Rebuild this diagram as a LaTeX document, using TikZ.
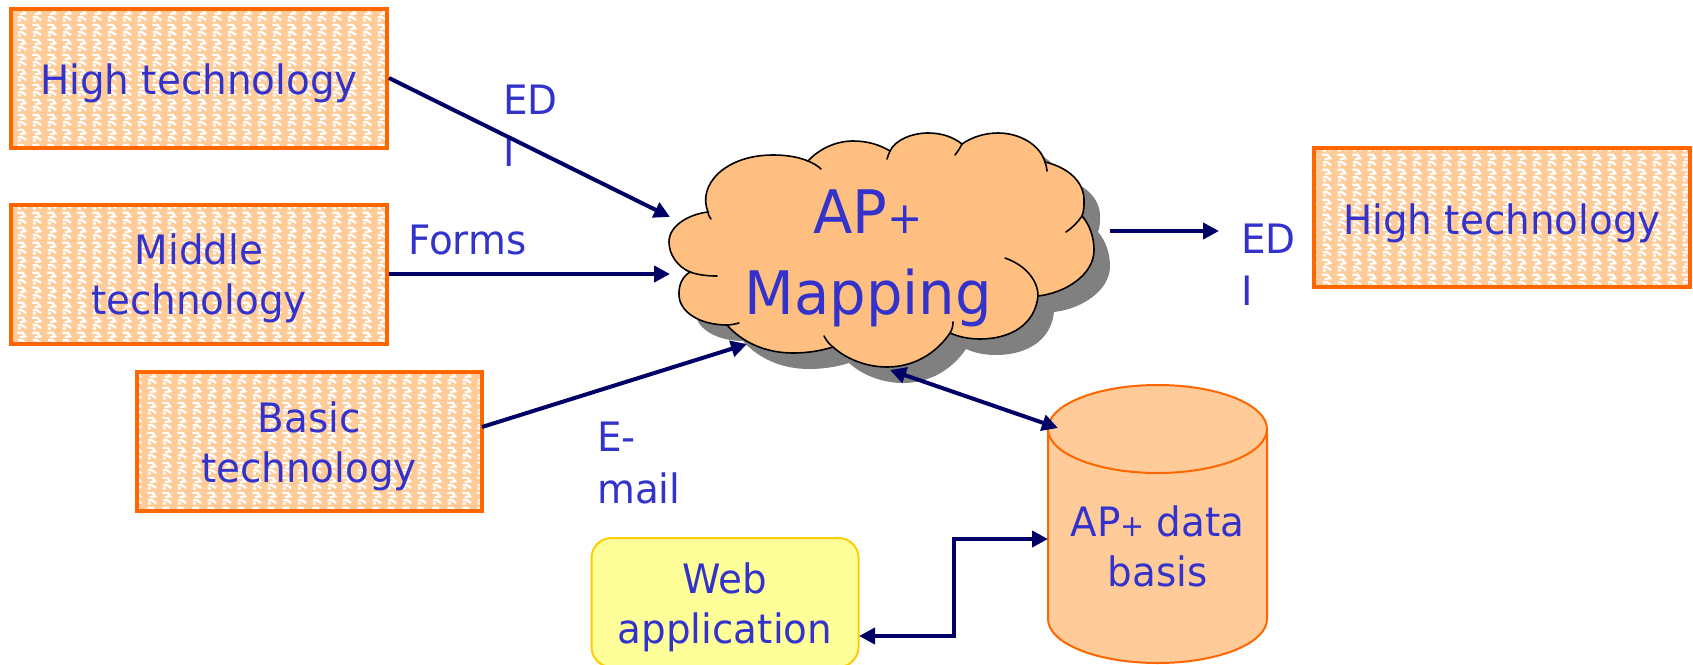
\documentclass[tikz,border=0pt]{standalone}
\usepackage{fontspec}
\setmainfont{DejaVu Sans}[FakeStretch=0.96]
\usetikzlibrary{arrows.meta,patterns}
\definecolor{txt}{HTML}{3333CC}
\definecolor{navy}{HTML}{000066}
\definecolor{org}{HTML}{FF6600}
\definecolor{peach}{HTML}{FFCC99}
\definecolor{cloudc}{HTML}{FFBF80}
\definecolor{webfill}{HTML}{FFFF99}
\definecolor{webline}{HTML}{FFCC00}
\pgfdeclarepatternformonly{squig}{\pgfqpoint{0pt}{0pt}}{\pgfqpoint{14.5pt}{14.5pt}}{\pgfqpoint{14.5pt}{14.5pt}}{%
  \pgfsetlinewidth{2.3pt}%
  \pgfpathmoveto{\pgfqpoint{2.5pt}{12.5pt}}\pgfpathlineto{\pgfqpoint{8pt}{12.5pt}}\pgfpathlineto{\pgfqpoint{10.5pt}{9pt}}\pgfpathlineto{\pgfqpoint{5pt}{8pt}}\pgfusepath{stroke}%
  \pgfpathmoveto{\pgfqpoint{3pt}{5pt}}\pgfpathlineto{\pgfqpoint{7pt}{5pt}}\pgfpathlineto{\pgfqpoint{11.5pt}{2pt}}\pgfusepath{stroke}%
  \pgfpathmoveto{\pgfqpoint{3pt}{1.5pt}}\pgfpathlineto{\pgfqpoint{6pt}{1.5pt}}\pgfusepath{stroke}%
}
\newcommand{\cloudoutline}{%
  (708,212) .. controls (697,185) and (725,155) .. (773,155)
  .. controls (787,155) and (798,157) .. (808,161)
  .. controls (820,148) and (837,141) .. (853,141)
  .. controls (868,141) and (880,145) .. (890,151)
  .. controls (895,140) and (912,133) .. (928,133)
  .. controls (942,133) and (953,137) .. (962,144)
  .. controls (972,137) and (985,133) .. (998,133)
  .. controls (1020,133) and (1040,145) .. (1045,162)
  .. controls (1070,168) and (1084,183) .. (1084,200)
  .. controls (1084,206) and (1084,211) .. (1082,216)
  .. controls (1090,225) and (1094,238) .. (1094,250)
  .. controls (1094,275) and (1065,293) .. (1038,296)
  .. controls (1035,325) and (1010,339) .. (980,339)
  .. controls (969,339) and (959,337) .. (950,333)
  .. controls (935,355) and (912,367) .. (887,367)
  .. controls (865,367) and (845,358) .. (833,347)
  .. controls (820,351) and (807,353) .. (793,353)
  .. controls (765,353) and (742,342) .. (727,325)
  .. controls (700,325) and (678,312) .. (679,293)
  .. controls (679,285) and (682,277) .. (690,272)
  .. controls (678,267) and (669,255) .. (669,242)
  .. controls (669,225) and (690,214) .. (708,212) -- cycle}
\tikzset{
  x=1pt,y=-1pt,
  techbox/.style={draw=org,line width=4pt,preaction={fill=peach},pattern=squig,pattern color=white,text=txt,font=\fontsize{40.5}{50}\selectfont,inner sep=0pt,minimum height=139pt},
  lbl/.style={text=txt,font=\fontsize{40.5}{52}\selectfont,align=left,anchor=north west,inner sep=0pt},
  conn/.style={navy,line width=4pt,-{Triangle[length=16pt,width=16pt]}},
  biconn/.style={navy,line width=4pt,{Triangle[length=16pt,width=16pt]}-{Triangle[length=16pt,width=16pt]}},
}
\newcommand{\plus}[1]{{\fontsize{#1}{#1}\selectfont+}}
\newcommand{\lowtext}[3]{\raisebox{-#1pt}[0pt][0pt]{\parbox{#2pt}{\centering #3}}}
\begin{document}
\begin{tikzpicture}
\useasboundingbox (0,0) rectangle (1693,664);
% cloud
\fill[black!50,shift={(16,16)}] \cloudoutline;
\draw[black,line width=1.6pt,fill=cloudc] \cloudoutline;
\draw[black,line width=1.6pt,line cap=round]
  (708,212) .. controls (708,214) and (709,217) .. (711,219)
  (808,161) .. controls (813,163) and (818,166) .. (821,169)
  (890,151) .. controls (889,153) and (888,156) .. (887,159)
  (962,144) .. controls (960,148) and (958,151) .. (955,155)
  (1045,162) .. controls (1046,165) and (1047,168) .. (1047,171)
  (1082,216) .. controls (1078,222) and (1072,228) .. (1066,232)
  (1038,296) .. controls (1038,280) and (1025,265) .. (1005,258)
  (950,333) .. controls (952,330) and (953,326) .. (953,322)
  (833,347) .. controls (829,344) and (826,340) .. (824,336)
  (727,325) .. controls (731,325) and (735,324) .. (739,323)
  (690,272) .. controls (698,275) and (708,276) .. (717,276);
% boxes
\node[techbox,minimum width=376pt] (high) at (199,78) {\lowtext{11.5}{340}{High technology}};
\node[techbox,minimum width=376pt] (mid) at (199,274) {\lowtext{10.5}{340}{Middle\\technology}};
\node[techbox,minimum width=345pt] (basic) at (309,441) {\lowtext{12}{320}{Basic\\technology}};
\node[techbox,minimum width=376pt] (high2) at (1502,217) {\lowtext{12.5}{340}{High technology}};
% cloud text
\node[text=txt,align=center,font=\fontsize{60}{81}\selectfont,inner sep=0pt] (cloud) at (868,258) {AP\plus{44}\\Mapping};
% database
\draw[org,line width=2pt,fill=peach] (1048,429) -- (1048,619) arc[start angle=180,end angle=360,x radius=109.5,y radius=-44] -- (1267,429);
\draw[org,line width=2pt,fill=peach] (1157.5,429) ellipse[x radius=109.5,y radius=44];
\node[text=txt,align=center,font=\fontsize{40.5}{50}\selectfont,inner sep=0pt] (db) at (1157.5,546) {AP\plus{30} data\\basis};
% web
\node[draw=webline,line width=2pt,fill=webfill,rounded corners=20pt,text=txt,font=\fontsize{40.5}{50}\selectfont,minimum width=267pt,minimum height=129pt,inner sep=0pt] (web) at (725,602.5) {\lowtext{11}{250}{Web\\application}};
% labels
\node[lbl] (l1) at (503,85) {ED\\I};
\node[lbl] (l2) at (408,225) {Forms};
\node[lbl] (l3) at (597,422) {E-\\mail};
\node[lbl] (l4) at (1241,224) {ED\\I};
% connector ends
\coordinate (c1) at (670,217);
\coordinate (c2) at (670,274);
\coordinate (c3) at (747,344);
\coordinate (c4) at (890,370);
\coordinate (d4) at (1058,428);
\coordinate (d5) at (1048,539);
\coordinate (w5) at (859,636);
\coordinate (o1) at (1110,231);
\coordinate (o2) at (1219,231);
\coordinate (bs) at (482,427);
\draw[conn] (high.east) -- (c1);
\draw[conn] (mid.east) -- (c2);
\draw[conn] (bs) -- (c3);
\draw[biconn] (c4) -- (d4);
\draw[biconn] (w5) -- (954,636) -- (954,539) -- (d5);
\draw[conn] (o1) -- (o2);
\end{tikzpicture}
\end{document}
